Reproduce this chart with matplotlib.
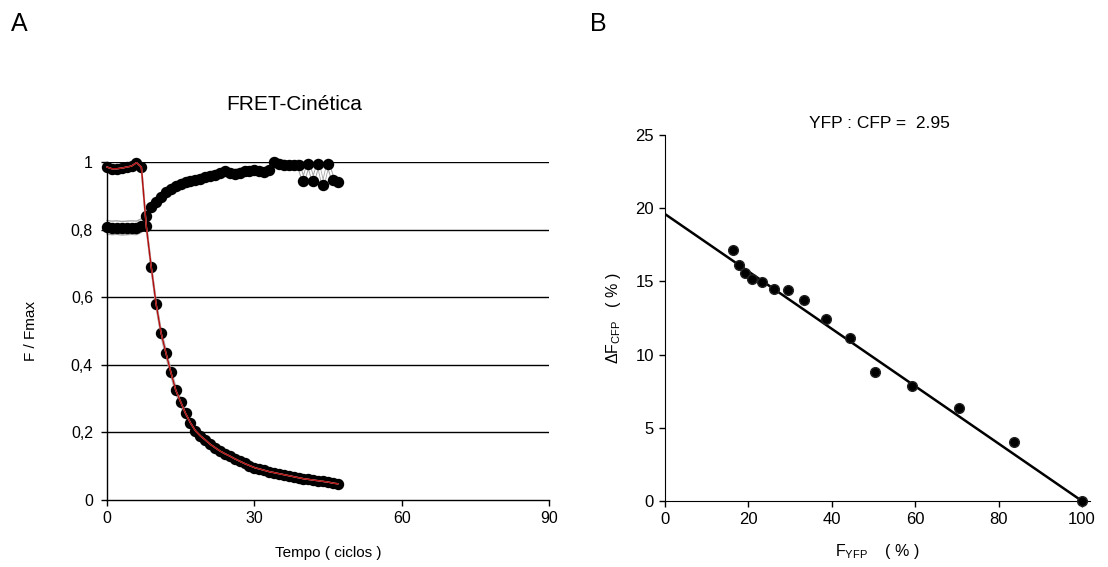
import matplotlib
matplotlib.use("Agg")
import matplotlib.pyplot as plt
import numpy as np

plt.rcParams['font.family'] = ['Liberation Sans', 'DejaVu Sans']
plt.rcParams['mathtext.fontset'] = 'custom'
plt.rcParams['mathtext.rm'] = 'Liberation Sans'
plt.rcParams['mathtext.it'] = 'Liberation Sans:italic'

# ---- Panel A data ----
cycles = list(range(48))
decay = [0.985, 0.98, 0.98, 0.982, 0.985, 0.988, 0.998, 0.985, 0.81, 0.69,
         0.58, 0.495, 0.435, 0.378, 0.325, 0.29, 0.256, 0.228, 0.205, 0.19,
         0.178, 0.165, 0.155, 0.145, 0.137, 0.13, 0.122, 0.115, 0.108, 0.102,
         0.096, 0.092, 0.088, 0.084, 0.081, 0.078, 0.075, 0.072, 0.069, 0.066,
         0.063, 0.061, 0.059, 0.057, 0.055, 0.053, 0.05, 0.048]
decay_err = [0.01] * 48
rise = [0.807, 0.805, 0.806, 0.804, 0.805, 0.806, 0.805, 0.812, 0.84, 0.868,
        0.882, 0.895, 0.91, 0.92, 0.928, 0.935, 0.94, 0.943, 0.946, 0.95,
        0.955, 0.958, 0.962, 0.966, 0.972, 0.968, 0.965, 0.968, 0.972, 0.973,
        0.975, 0.972, 0.97, 0.975, 1.0, 0.995, 0.992, 0.99, 0.99, 0.992,
        0.945, 0.995, 0.945, 0.995, 0.932, 0.995, 0.948, 0.94]
rise_err = [0.02] * 9 + [0.013] * 39

a_yticks = [0, 0.2, 0.4, 0.6, 0.8, 1.0]
a_yticklabels = ['0', '0,2', '0,4', '0,6', '0,8', '1']
a_xticks = [0, 30, 60, 90]

# ---- Panel B data ----
f_yfp = [16.4, 17.7, 19.2, 20.9, 23.2, 26.2, 29.4, 33.3, 38.5, 44.4,
         50.4, 59.2, 70.6, 83.7, 100.0]
dF_cfp = [17.15, 16.1, 15.55, 15.14, 14.96, 14.48, 14.39, 13.75, 12.45, 11.15,
          8.81, 7.88, 6.37, 4.05, 0.0]
fit_x = [0, 100]
fit_y = [19.6, 0.0]
b_xticks = [0, 20, 40, 60, 80, 100]
b_yticks = [0, 5, 10, 15, 20, 25]

W, H = 1108, 567
fig = plt.figure(figsize=(W / 100, H / 100), dpi=100)

# ---------------- Panel A ----------------
axA = fig.add_axes([107 / W, 1 - 500 / H, 442 / W, 338 / H])
for y in a_yticks[1:]:
    axA.axhline(y, color='black', lw=1.0, zorder=1)
c = np.array(cycles)
d = np.array(decay); de = np.array(decay_err)
r = np.array(rise); re = np.array(rise_err)
for arr in (r + re, r - re, d + de, d - de):
    axA.plot(c, arr, color='#a8a8a8', lw=1.0, zorder=2, clip_on=False)
# rising series: white line under markers
axA.plot(c, r, color='white', lw=1.2, zorder=3, clip_on=False)
axA.plot(c, r, linestyle='none', marker='o', ms=7.2, mfc='black', mec='black',
         zorder=4, clip_on=False)
# decay series: markers, white line, red line on top
axA.plot(c, d, linestyle='none', marker='o', ms=7.2, mfc='black', mec='black',
         zorder=4, clip_on=False)
axA.plot(c, d, color='white', lw=1.0, zorder=5, clip_on=False)
axA.plot(c, d, color='#b01010', lw=1.1, zorder=6, clip_on=False)

axA.set_xlim(0, 90)
axA.set_ylim(0, 1)
axA.set_xticks(a_xticks)
axA.set_yticks(a_yticks)
axA.set_yticklabels(a_yticklabels)
axA.spines['top'].set_visible(False)
axA.spines['right'].set_visible(False)
for s in ['left', 'bottom']:
    axA.spines[s].set_linewidth(1.0)
axA.tick_params(direction='out', length=4, width=1, labelsize=11.5, pad=6)
axA.tick_params(axis='x', pad=4)
axA.set_xlabel('Tempo ( ciclos )', fontsize=11, labelpad=14)
axA.set_ylabel('F / Fmax', fontsize=11, labelpad=24)
fig.text(294 / W, 1 - 104 / H, 'FRET-Cinética', fontsize=15, ha='center', va='center')
fig.text(11 / W, 1 - 24 / H, 'A', fontsize=18, ha='left', va='center')

# ---------------- Panel B ----------------
ux = 417 / 100.0
axB = fig.add_axes([665 / W, 1 - 501 / H, (101.8 * ux) / W, 366 / H])
axB.plot(fit_x, fit_y, color='black', lw=1.8, zorder=2)
axB.plot(f_yfp, dF_cfp, linestyle='none', marker='o', ms=7, mfc='black',
         mec='#222222', zorder=3, clip_on=False)
axB.set_xlim(0, 101.8)
axB.set_ylim(0, 25)
axB.set_xticks(b_xticks)
axB.set_yticks(b_yticks)
axB.spines['top'].set_visible(False)
axB.spines['right'].set_visible(False)
axB.tick_params(direction='out', length=4, width=1, labelsize=12, pad=4)
axB.set_xlabel(r'F$_{\mathrm{YFP}}$    ( % )', fontsize=11.5, labelpad=11)
axB.set_ylabel(r'$\Delta$F$_{\mathrm{CFP}}$   ( % )', fontsize=11.5, labelpad=9)
fig.text(879 / W, 1 - 123 / H, 'YFP : CFP =  2.95', fontsize=12.5, ha='center', va='center')
fig.text(590 / W, 1 - 24 / H, 'B', fontsize=18, ha='left', va='center')

fig.savefig('out.png', dpi=100)
